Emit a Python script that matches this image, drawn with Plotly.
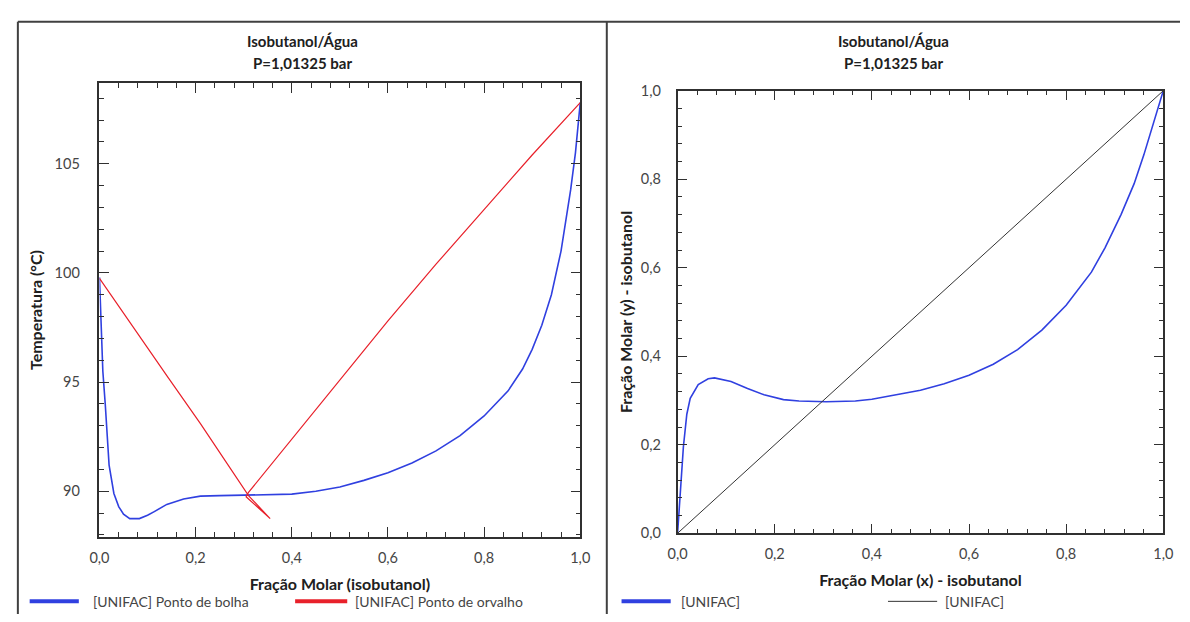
import plotly.graph_objects as go

# ---- Data ----
# Left: T-x-y diagram (bubble and dew point), UNIFAC
bubble_x = [0.0, 0.003, 0.007, 0.012, 0.016, 0.02, 0.03, 0.04, 0.05, 0.063, 0.083, 0.10, 0.114,
            0.14, 0.175, 0.21, 0.25, 0.30, 0.35, 0.40, 0.45, 0.50, 0.55, 0.60, 0.65, 0.70, 0.75,
            0.80, 0.85, 0.88, 0.90, 0.92, 0.94, 0.96, 0.98, 0.99, 1.0]
bubble_T = [99.8, 97.5, 95.5, 94.0, 92.3, 91.2, 89.9, 89.3, 88.95, 88.75, 88.75, 88.9, 89.07,
            89.4, 89.65, 89.78, 89.8, 89.82, 89.83, 89.87, 90.0, 90.2, 90.5, 90.85, 91.3, 91.85, 92.55,
            93.45, 94.6, 95.6, 96.5, 97.6, 99.0, 101.0, 103.8, 105.5, 107.8]

dew_x = [0.0, 0.07, 0.14, 0.21, 0.28, 0.31, 0.355, 0.305, 0.31, 0.40, 0.50, 0.60, 0.70, 0.80, 0.90, 1.0]
dew_T = [99.75, 97.5, 95.3, 93.1, 90.8, 89.8, 88.75, 89.75, 89.95, 92.4, 95.1, 97.8, 100.4, 102.9, 105.4, 107.8]

# Right: x-y diagram, UNIFAC
xy_x = [0.0, 0.0055, 0.012, 0.019, 0.026, 0.0425, 0.063, 0.076, 0.11, 0.144, 0.178, 0.218, 0.25,
        0.306, 0.366, 0.40, 0.447, 0.50, 0.549, 0.60, 0.65, 0.70, 0.75, 0.80, 0.852, 0.88,
        0.913, 0.94, 0.96, 0.98, 1.0]
xy_y = [0.0, 0.086, 0.196, 0.269, 0.305, 0.336, 0.349, 0.351, 0.343, 0.327, 0.313, 0.302, 0.299,
        0.297, 0.299, 0.303, 0.312, 0.323, 0.338, 0.357, 0.382, 0.415, 0.459, 0.515, 0.59, 0.645,
        0.72, 0.79, 0.855, 0.925, 1.0]
diag = [0.0, 1.0]

# ---- Styling ----
FONT = "Lato"
BLUE = "#3040e0"
RED = "#e8202a"
AXC = "#303030"
TXT = "#454545"

fig = go.Figure()
fig.add_trace(go.Scatter(x=bubble_x, y=bubble_T, mode="lines", line=dict(color=BLUE, width=1.6),
                         name="[UNIFAC] Ponto de bolha", xaxis="x", yaxis="y", showlegend=False))
fig.add_trace(go.Scatter(x=dew_x, y=dew_T, mode="lines", line=dict(color=RED, width=1.2),
                         name="[UNIFAC] Ponto de orvalho", xaxis="x", yaxis="y", showlegend=False))
fig.add_trace(go.Scatter(x=xy_x, y=xy_y, mode="lines", line=dict(color=BLUE, width=1.6),
                         name="[UNIFAC]", xaxis="x2", yaxis="y2", showlegend=False))
fig.add_trace(go.Scatter(x=diag, y=diag, mode="lines", line=dict(color="#333333", width=1),
                         name="[UNIFAC]", xaxis="x2", yaxis="y2", showlegend=False))

W, H = 1190, 622
TFONT = dict(family=FONT, size=16, color="#202020")
HFONT = dict(family=FONT, size=15, color="#202020")


def axis_common():
    return dict(showline=True, linecolor=AXC, linewidth=1.5, mirror="allticks",
                ticks="inside", ticklen=10, tickwidth=1.3, tickcolor=AXC,
                showgrid=False, zeroline=False,
                tickfont=dict(family=FONT, size=14.5, color=TXT))


xa = axis_common()
xa.update(domain=[91 / W, 580 / W], range=[0, 1], dtick=0.2, tick0=0, tickformat=".1f",
          minor=dict(ticks="inside", ticklen=5, dtick=0.04, tickcolor=AXC, tickwidth=1),
          anchor="y", ticklabelstandoff=7,
          title=dict(text="<b>Fração Molar (isobutanol)</b>", font=TFONT, standoff=13))
ya = axis_common()
ya.update(domain=[(H - 543) / H, (H - 76) / H], range=[87.9, 108.7], dtick=5, tick0=0,
          minor=dict(ticks="inside", ticklen=5, dtick=1, tickcolor=AXC, tickwidth=1),
          anchor="x", ticklabelstandoff=15,
          title=dict(text="<b>Temperatura (°C)</b>", font=TFONT, standoff=8))
xa2 = axis_common()
xa2.update(domain=[679 / W, 1173 / W], range=[0, 1], dtick=0.2, tick0=0, tickformat=".1f",
           minor=dict(ticks="inside", ticklen=5, dtick=0.04, tickcolor=AXC, tickwidth=1),
           anchor="y2", ticklabelstandoff=7,
           title=dict(text="<b>Fração Molar (x) - isobutanol</b>", font=TFONT, standoff=13))
ya2 = axis_common()
ya2.update(domain=[(H - 539) / H, (H - 84) / H], range=[0, 1], dtick=0.2, tick0=0, tickformat=".1f",
           minor=dict(ticks="inside", ticklen=5, dtick=0.04, tickcolor=AXC, tickwidth=1),
           anchor="x2", ticklabelstandoff=12,
           title=dict(text="<b>Fração Molar (y) - isobutanol</b>", font=TFONT, standoff=4))

annotations = []
for cx in (298, 899):
    annotations.append(dict(text="<b>Isobutanol/Água</b>", x=cx / W, y=1 - 33 / H, xref="paper", yref="paper",
                            showarrow=False, xanchor="center", yanchor="middle", font=HFONT))
    annotations.append(dict(text="<b>P=1,01325 bar</b>", x=cx / W, y=1 - 56 / H, xref="paper", yref="paper",
                            showarrow=False, xanchor="center", yanchor="middle", font=HFONT))

# Legend entries (drawn manually to match the reference's layout)
legend_items = [
    (20, 70, BLUE, 4, "[UNIFAC] Ponto de bolha", 82),
    (290, 343, RED, 4, "[UNIFAC] Ponto de orvalho", 349),
    (622, 672, BLUE, 4, "[UNIFAC]", 680),
    (893, 943, "#333333", 1, "[UNIFAC]", 949),
]
shapes = []
LY = 609
for x0, x1, col, w, label, tx in legend_items:
    shapes.append(dict(type="line", xref="paper", yref="paper", x0=x0 / W, x1=x1 / W,
                       y0=1 - LY / H, y1=1 - LY / H, line=dict(color=col, width=w)))
    annotations.append(dict(text=label, x=tx / W, y=1 - LY / H, xref="paper", yref="paper",
                            showarrow=False, xanchor="left", yanchor="middle",
                            font=dict(family=FONT, size=14, color=TXT)))

# Outer frame lines
frame = dict(color="#404040", width=2)
shapes.append(dict(type="line", xref="paper", yref="paper", x0=8 / W, x1=1, y0=1 - 13 / H, y1=1 - 13 / H, line=frame))
shapes.append(dict(type="line", xref="paper", yref="paper", x0=8 / W, x1=8 / W, y0=0, y1=1 - 13 / H, line=frame))
shapes.append(dict(type="line", xref="paper", yref="paper", x0=607 / W, x1=607 / W, y0=0, y1=1 - 13 / H, line=frame))

fig.update_layout(
    width=W, height=H, margin=dict(l=0, r=0, t=0, b=0),
    paper_bgcolor="white", plot_bgcolor="white",
    separators=",.",
    xaxis=xa, yaxis=ya, xaxis2=xa2, yaxis2=ya2,
    annotations=annotations, shapes=shapes,
    showlegend=False,
    font=dict(family=FONT),
)

POST = (
    "var gd=document.getElementById('{plot_id}');"
    "document.documentElement.style.margin='0';document.documentElement.style.padding='0';"
    "document.documentElement.style.overflow='hidden';"
    "document.body.style.margin='0';document.body.style.padding='0';document.body.style.overflow='hidden';"
    "gd.style.position='fixed';gd.style.left='0px';gd.style.top='0px';"
)

fig.write_html("out.html", config={"displayModeBar": False}, post_script=POST)
